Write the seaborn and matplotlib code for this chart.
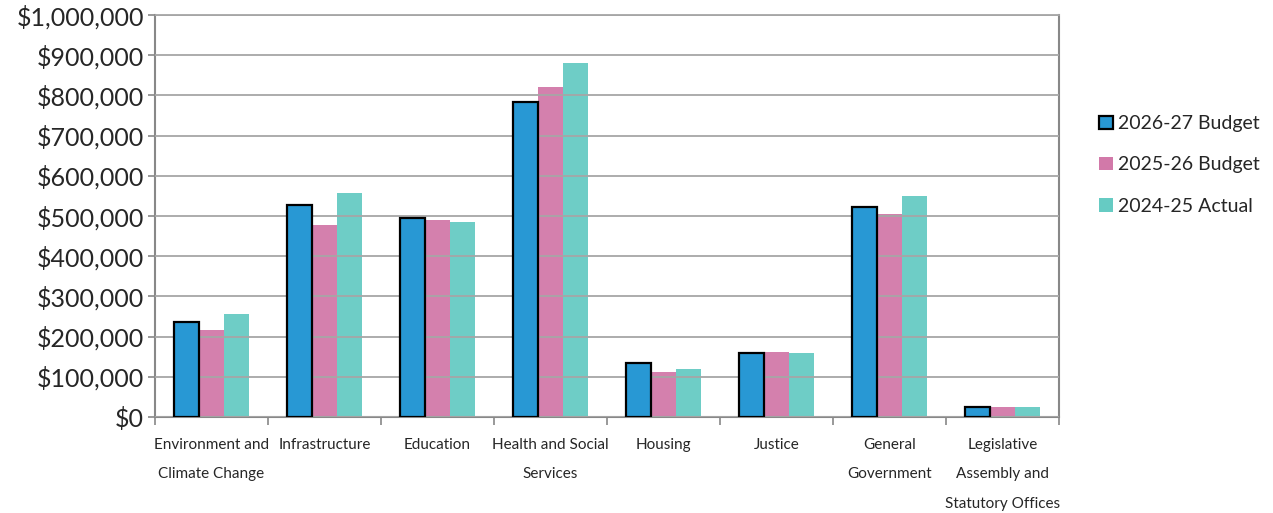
import pandas as pd
import matplotlib.pyplot as plt
import matplotlib.ticker as mticker
from matplotlib.patches import Patch
import seaborn as sns

categories = ['Environment and\nClimate Change', 'Infrastructure', 'Education',
              'Health and Social\nServices', 'Housing', 'Justice',
              'General\nGovernment', 'Legislative\nAssembly and\nStatutory Offices']
series = ['2026-27 Budget', '2025-26 Budget', '2024-25 Actual']
budget_2026 = [237000, 527000, 495000, 783000, 134000, 160000, 523000, 25000]
budget_2025 = [217000, 478000, 489000, 822000, 112000, 161000, 506000, 24000]
actual_2024 = [255000, 556000, 484000, 881000, 120000, 158000, 550000, 25000]

colors = ['#2898D4', '#D279A9', '#66CBC3']

data = pd.DataFrame({
    'Category': categories * 3,
    'Series': [series[0]] * 8 + [series[1]] * 8 + [series[2]] * 8,
    'Value': budget_2026 + budget_2025 + actual_2024,
})

sns.set_style('white')
plt.rcParams['font.family'] = ['Lato', 'DejaVu Sans']

fig = plt.figure(figsize=(12.73, 5.13), dpi=100)
ax = fig.add_axes([0.1218, 0.1871, 0.71, 0.7837])

sns.barplot(data=data, x='Category', y='Value', hue='Series', palette=colors,
            width=0.66, ax=ax, saturation=1, legend=False, zorder=3)

for i, cont in enumerate(ax.containers):
    for bar in cont:
        if i == 0:
            bar.set_edgecolor('black')
            bar.set_linewidth(1.6)
        else:
            bar.set_edgecolor('none')
            bar.set_alpha(0.95)
            bar.set_zorder(1)

ax.set_ylim(0, 1000000)
ax.set_xlim(-0.5, 7.5)
ax.yaxis.set_major_locator(mticker.MultipleLocator(100000))
ax.yaxis.set_major_formatter(mticker.FuncFormatter(lambda v, p: '${:,.0f}'.format(v)))
ax.grid(axis='y', color='#a6a6a6', linewidth=1.3, zorder=0)
ax.set_axisbelow(False)
for gl in ax.yaxis.get_gridlines():
    gl.set_zorder(2)

ax.set_xlabel('')
ax.set_ylabel('')
ax.tick_params(axis='y', labelsize=18, length=5, width=1.2, color='#888888',
               left=True, pad=3)
ax.set_xticks(range(8))
ax.set_xticklabels(categories, fontsize=11, linespacing=2.4, va='top')
ax.tick_params(axis='x', which='major', length=0, pad=15)
ax.set_xticks([i - 0.5 for i in range(9)], minor=True)
ax.tick_params(axis='x', which='minor', length=6, width=1.2, color='#888888',
               bottom=True)

for side in ['left', 'bottom', 'right']:
    ax.spines[side].set_color('#888888')
    ax.spines[side].set_linewidth(1.5)
ax.spines['top'].set_color('#a6a6a6')
ax.spines['top'].set_linewidth(1.3)

handles = [Patch(facecolor=colors[0], edgecolor='black', linewidth=1.6),
           Patch(facecolor=colors[1], edgecolor='none'),
           Patch(facecolor=colors[2], edgecolor='none')]
ax.legend(handles, series, loc='center left', bbox_to_anchor=(1.025, 0.627),
          frameon=False, fontsize=14, handlelength=0.7, handleheight=0.7,
          handletextpad=0.3, labelspacing=1.25)

fig.savefig('out.png', dpi=100)
